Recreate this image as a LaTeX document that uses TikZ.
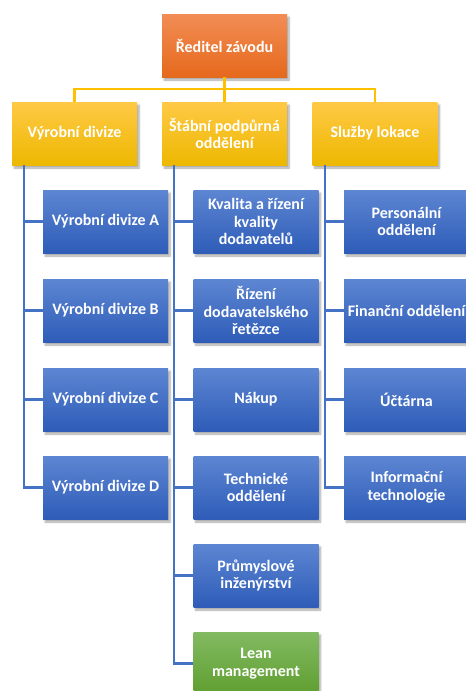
\documentclass[tikz,border=0pt]{standalone}
\usepackage{fontspec}
\setmainfont{Carlito}
\usetikzlibrary{shadows.blur}
\definecolor{blueTop}{HTML}{5D86D2}
\definecolor{blueBot}{HTML}{2E5CB8}
\definecolor{orgTop}{HTML}{F28D55}
\definecolor{orgBot}{HTML}{E5691C}
\definecolor{ylwTop}{HTML}{FFC946}
\definecolor{ylwBot}{HTML}{EDB800}
\definecolor{grnTop}{HTML}{82BA62}
\definecolor{grnBot}{HTML}{5F9E2F}
\definecolor{lineY}{HTML}{FFC000}
\definecolor{lineB}{HTML}{4472C4}
\tikzset{
  unit/.style={minimum width=125pt, minimum height=63pt, inner sep=0pt,
    align=center, text=white,
    font=\fontsize{16pt}{17.5pt}\selectfont\bfseries,
    blur shadow={shadow xshift=2pt, shadow yshift=-3pt, shadow blur steps=6, shadow opacity=35}},
  bluebox/.style={unit, top color=blueTop, bottom color=blueBot},
  orangebox/.style={unit, top color=orgTop, bottom color=orgBot},
  yellowbox/.style={unit, top color=ylwTop, bottom color=ylwBot},
  greenbox/.style={unit, top color=grnTop, bottom color=grnBot},
  ylink/.style={draw=lineY, line width=2.6pt},
  blink/.style={draw=lineB, line width=2.6pt},
}
\begin{document}
\begin{tikzpicture}[x=1pt, y=-1pt]
\useasboundingbox (0,0) rectangle (466,691);

% junction points of the connector lines
\coordinate (bar) at (224.5,89);
\coordinate (barL) at (74.5,89);
\coordinate (barR) at (375,89);
\coordinate (vL0) at (24,165);
\coordinate (vM0) at (174,165);
\coordinate (vR0) at (325,165);

% top level
\node[orangebox] (dir) at (224.5,45.5) {Ředitel závodu};

% second level
\node[yellowbox] (div) at (74.5,133.5) {Výrobní divize};
\node[yellowbox] (stab) at (224.5,133.5) {Štábní podpůrná\\oddělení};
\node[yellowbox] (lok) at (375,133.5) {Služby lokace};

% production divisions
\node[bluebox] (dA) at (105.5,221.5) {Výrobní divize A};
\node[bluebox] (dB) at (105.5,310.5) {Výrobní divize B};
\node[bluebox] (dC) at (105.5,399.5) {Výrobní divize C};
\node[bluebox] (dD) at (105.5,487.5) {Výrobní divize D};

% staff departments
\node[bluebox] (s1) at (256,221.5) {Kvalita a řízení\\kvality\\dodavatelů};
\node[bluebox] (s2) at (256,310.5) {Řízení\\dodavatelského\\řetězce};
\node[bluebox] (s3) at (256,399.5) {Nákup};
\node[bluebox] (s4) at (256,487.5) {Technické\\oddělení};
\node[bluebox] (s5) at (256,575.5) {Průmyslové\\inženýrství};
\node[greenbox] (s6) at (256,663.5) {Lean\\management};

% site services
\node[bluebox] (l1) at (406.5,221.5) {Personální\\oddělení};
\node[bluebox] (l2) at (406.5,310.5) {Finanční oddělení};
\node[bluebox] (l3) at (406.5,399.5) {Účtárna};
\node[bluebox] (l4) at (406.5,487.5) {Informační\\technologie};

% yellow links
\draw[ylink] (dir.south) -- (bar);
\draw[ylink] (div.north) -- (barL) -- (barR) -- (lok.north);
\draw[ylink] (bar) -- (stab.north);

% blue links
\draw[blink] (vL0) |- (dD.west);
\foreach \n in {dA,dB,dC} \draw[blink] (vL0 |- \n.west) -- (\n.west);
\draw[blink] (vM0) |- (s6.west);
\foreach \n in {s1,s2,s3,s4,s5} \draw[blink] (vM0 |- \n.west) -- (\n.west);
\draw[blink] (vR0) |- (l4.west);
\foreach \n in {l1,l2,l3} \draw[blink] (vR0 |- \n.west) -- (\n.west);
\end{tikzpicture}
\end{document}
